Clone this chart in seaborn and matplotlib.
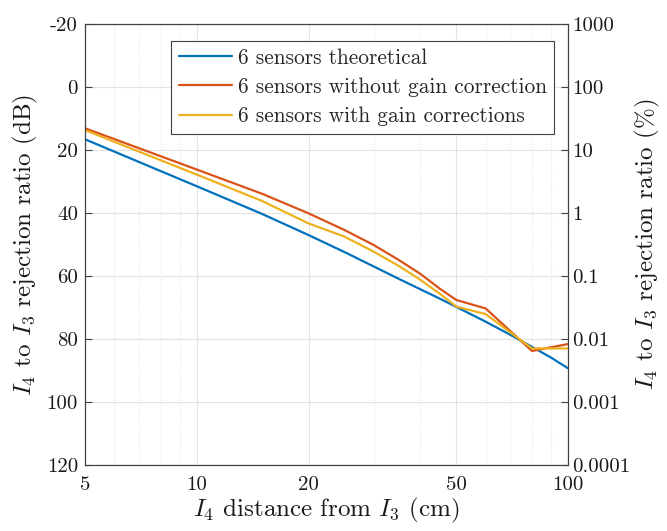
import numpy as np
import pandas as pd
import matplotlib
matplotlib.use("Agg")
import matplotlib.pyplot as plt
import seaborn as sns
from matplotlib.ticker import FixedLocator, NullLocator, NullFormatter

# ---- data ----
x_theory = [5, 10, 15, 20, 25, 30, 35, 40, 45, 50, 60, 70, 80, 90, 100]
db_theory = [16.6, 31.5, 40.3, 47.0, 52.4, 57.0, 60.9, 64.2, 67.1, 69.8, 74.5, 78.7, 82.5, 85.9, 89.3]

x_meas = [5, 10, 15, 20, 25, 30, 35, 40, 45, 50, 60, 80, 100]
db_no_gain = [13.1, 26.2, 33.9, 40.1, 45.4, 50.2, 54.9, 59.3, 63.9, 67.6, 70.3, 83.8, 81.6]
db_gain = [13.7, 27.8, 36.2, 43.3, 47.5, 52.3, 56.8, 61.2, 65.5, 69.7, 72.1, 83.0, 83.0]

labels = ["6 sensors theoretical", "6 sensors without gain correction", "6 sensors with gain corrections"]
colors = ["#0072BD", "#D95319", "#EDB120"]

y_ticks = [-20, 0, 20, 40, 60, 80, 100, 120]
y_ticklabels = ["-20", "0", "20", "40", "60", "80", "100", "120"]
x_ticks = [5, 10, 20, 50, 100]
x_ticklabels = ["5", "10", "20", "50", "100"]
pct_ticks = [1000, 100, 10, 1, 0.1, 0.01, 0.001, 0.0001]
pct_ticklabels = ["1000", "100", "10", "1", "0.1", "0.01", "0.001", "0.0001"]

df = pd.concat([
    pd.DataFrame({"x": x_theory, "db": db_theory, "series": labels[0]}),
    pd.DataFrame({"x": x_meas, "db": db_no_gain, "series": labels[1]}),
    pd.DataFrame({"x": x_meas, "db": db_gain, "series": labels[2]}),
], ignore_index=True)

sns.set_style("white")
plt.rcParams["font.family"] = ["cmr10", "DejaVu Serif"]
plt.rcParams["mathtext.fontset"] = "cm"
plt.rcParams["axes.formatter.use_mathtext"] = True

TICK_FS = 15
LABEL_FS = 18
LEG_FS = 15.4
txt_col = "#1a1a1a"

fig = plt.figure(figsize=(6.67, 5.31), dpi=100)
ax = fig.add_axes([85 / 667, 1 - 465 / 531, 483 / 667, 441 / 531])

sns.lineplot(data=df, x="x", y="db", hue="series", hue_order=labels,
             palette=colors, linewidth=1.6, ax=ax, sort=False, estimator=None)

ax.set_xscale("log")
ax.set_xlim(5, 100)
ax.set_ylim(120, -20)

ax.xaxis.set_major_locator(FixedLocator(x_ticks))
ax.set_xticklabels(x_ticklabels)
minor_x = [6, 7, 8, 9, 30, 40, 60, 70, 80, 90]
ax.xaxis.set_minor_locator(FixedLocator(minor_x))
ax.xaxis.set_minor_formatter(NullFormatter())
ax.set_yticks(y_ticks)
ax.set_yticklabels(y_ticklabels)

ax.grid(True, which="major", color="#e3e3e3", linewidth=0.8, linestyle="-")
ax.grid(True, which="minor", axis="x", color="#e3e3e3", linewidth=0.8, linestyle=":")
ax.set_axisbelow(True)

spine_col = "#404040"
for s in ax.spines.values():
    s.set_color(spine_col)
    s.set_linewidth(0.8)

ax.tick_params(axis="both", which="both", direction="in", colors=spine_col,
               labelcolor=txt_col, labelsize=TICK_FS, right=False, top=False)
ax.tick_params(axis="x", which="major", length=5, pad=8)
ax.tick_params(axis="x", which="minor", length=3)
ax.tick_params(axis="y", which="major", length=5, pad=5)

ax.set_xlabel("$I_4$ distance from $I_3$ (cm)", fontsize=LABEL_FS, color=txt_col, labelpad=1)
ax.set_ylabel("$I_4$ to $I_3$ rejection ratio (dB)", fontsize=LABEL_FS, color=txt_col, labelpad=5)

# right axis: percentage
ax2 = ax.twinx()
ax2.set_yscale("log")
ax2.set_ylim(0.0001, 1000)
ax2.yaxis.set_major_locator(FixedLocator(pct_ticks))
ax2.set_yticklabels(pct_ticklabels)
ax2.yaxis.set_minor_locator(NullLocator())
for s in ax2.spines.values():
    s.set_color(spine_col)
    s.set_linewidth(0.8)
ax2.tick_params(axis="y", which="both", direction="in", colors=spine_col,
                labelcolor=txt_col, labelsize=TICK_FS, length=5, pad=3)
ax2.set_ylabel("$I_4$ to $I_3$ rejection ratio (%)", fontsize=LABEL_FS, color=txt_col,
               rotation=90, labelpad=2)

leg = ax.legend(loc="upper right", bbox_to_anchor=(0.971, 0.962), borderaxespad=0,
                fontsize=LEG_FS, frameon=True, fancybox=False, framealpha=1,
                handlelength=2.5, handletextpad=0.25, labelspacing=0.45,
                borderpad=0.35, title=None)
leg.get_frame().set_edgecolor("#404040")
leg.get_frame().set_linewidth(0.8)
for line in leg.get_lines():
    line.set_linewidth(1.6)

fig.savefig("out.png", dpi=100)
